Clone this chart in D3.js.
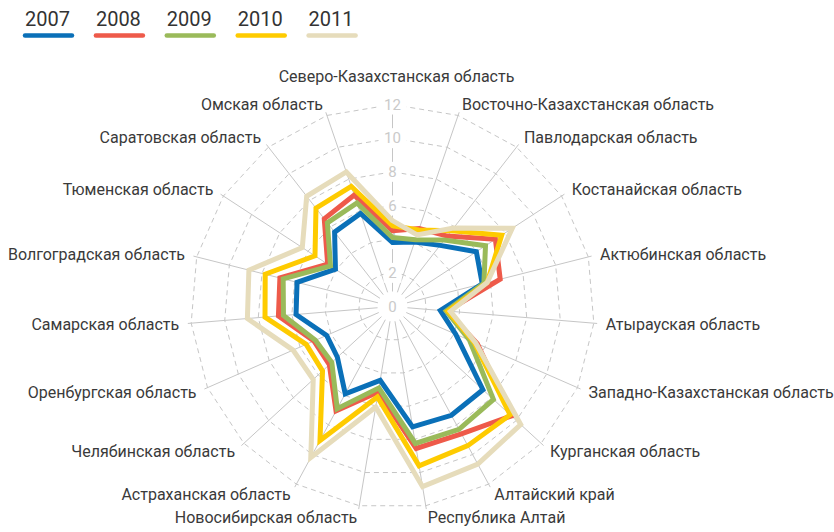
<!DOCTYPE html>
<html>
<head>
<meta charset="utf-8">
<script src="https://cdn.jsdelivr.net/npm/d3@7"></script>
<style>
  body { margin: 0; background: #fff; }
  svg { display: block; font-family: Roboto, "Noto Sans", sans-serif; }
</style>
</head>
<body>
<div id="chart"></div>
<script>
// Категории (оси радара), по часовой стрелке от верхней
const categories = [
  "Северо-Казахстанская область", "Восточно-Казахстанская область", "Павлодарская область",
  "Костанайская область", "Актюбинская область", "Атырауская область",
  "Западно-Казахстанская область", "Курганская область", "Алтайский край",
  "Республика Алтай", "Новосибирская область", "Астраханская область",
  "Челябинская область", "Оренбургская область", "Самарская область",
  "Волгоградская область", "Тюменская область", "Саратовская область", "Омская область"
];
const years = ["2007", "2008", "2009", "2010", "2011"];

// значения по годам
const v2007 = [3.8, 4.05, 4.6, 5.95, 5.5, 2.85, 4.1, 7.3, 7.35, 7.25, 4.45, 5.9, 4.45, 4.27, 5.75, 5.85, 4.05, 5.6, 5.85];
const v2008 = [4.5, 4.9, 5.3, 7.3, 6.6, 3.25, 5.5, 9.6, 8.6, 8.55, 5.15, 7.05, 5.1, 5.1, 6.8, 6.9, 4.6, 6.6, 7.0];
const v2009 = [4.1, 4.2, 5.0, 6.6, 5.6, 3.2, 5.0, 8.15, 8.3, 8.25, 4.9, 6.9, 4.9, 5.0, 6.5, 6.7, 4.4, 6.3, 6.5];
const v2010 = [4.8, 4.8, 5.7, 7.75, 5.8, 3.3, 5.3, 9.5, 9.4, 9.6, 5.45, 9.05, 5.65, 5.6, 7.6, 7.8, 5.5, 7.4, 7.55];
const v2011 = [5.1, 4.5, 5.9, 8.5, 5.8, 3.45, 5.4, 10.35, 10.65, 10.85, 6.05, 10.2, 6.4, 6.45, 8.65, 8.8, 6.4, 8.3, 8.45];
const seriesValues = [v2007, v2008, v2009, v2010, v2011];
const tickValues = [0, 2, 4, 6, 8, 10, 12];

const colors = ["#0a70b8", "#ee5a4a", "#9aba5a", "#fecb00", "#e6dcbb"];

const width = 834;
const height = 532;
const cx = 392.5, cy = 306.5;

const svg = d3.select("#chart")
  .append("svg")
  .attr("width", width)
  .attr("height", height);

// Шкалы
const r = d3.scaleLinear().domain([0, 12]).range([0, 202]);
const angle = d3.scaleLinear().domain([0, categories.length]).range([0, 2 * Math.PI]);

const g = svg.append("g").attr("transform", `translate(${cx},${cy})`);

// Сетка (многоугольники)
const gridLine = d3.lineRadial()
  .angle((d, i) => angle(i))
  .radius(d => r(d))
  .curve(d3.curveLinearClosed);

g.selectAll(".grid")
  .data(tickValues.slice(1))
  .enter()
  .append("path")
  .attr("class", "grid")
  .attr("d", t => gridLine(categories.map(() => t)))
  .attr("fill", "none")
  .attr("stroke", "#c6c6c6")
  .attr("stroke-width", 1)
  .attr("stroke-dasharray", "5,4");

// Оси
g.selectAll(".axis")
  .data(categories)
  .enter()
  .append("line")
  .attr("class", "axis")
  .attr("x1", (d, i) => Math.sin(angle(i)) * 15)
  .attr("y1", (d, i) => -Math.cos(angle(i)) * 15)
  .attr("x2", (d, i) => Math.sin(angle(i)) * r(12.2))
  .attr("y2", (d, i) => -Math.cos(angle(i)) * r(12.2))
  .attr("stroke", "#c6c6c6")
  .attr("stroke-width", 1);

// Подписи шкалы
const ticks = g.selectAll(".tick")
  .data(tickValues)
  .enter()
  .append("g")
  .attr("class", "tick")
  .attr("transform", d => `translate(0,${-r(d)})`);

ticks.append("rect")
  .attr("x", d => d >= 10 ? -14 : -9)
  .attr("y", -10)
  .attr("width", d => d >= 10 ? 28 : 18)
  .attr("height", 20)
  .attr("fill", "#fff");

ticks.append("text")
  .attr("dy", "0.35em")
  .attr("text-anchor", "middle")
  .style("font-size", "15px")
  .attr("fill", "#cacaca")
  .text(d => d);

// Подписи категорий
const labelR = 214;
g.selectAll(".label")
  .data(categories)
  .enter()
  .append("text")
  .attr("class", "label")
  .attr("x", (d, i) => Math.sin(angle(i)) * labelR + (i === 0 ? 4 : 0))
  .attr("y", (d, i) => -Math.cos(angle(i)) * labelR - (i === 0 ? 16 : 0))
  .attr("dy", "0.35em")
  .attr("text-anchor", (d, i) => {
    const s = Math.sin(angle(i));
    return Math.abs(s) < 0.01 ? "middle" : (s > 0 ? "start" : "end");
  })
  .style("font-size", "16px")
  .attr("fill", "#3a3a3a")
  .text(d => d);

// Ряды
const seriesLine = d3.lineRadial()
  .angle((d, i) => angle(i))
  .radius(d => r(d))
  .curve(d3.curveLinearClosed);

g.selectAll(".series")
  .data(seriesValues)
  .enter()
  .append("path")
  .attr("class", "series")
  .attr("d", d => seriesLine(d))
  .attr("fill", "none")
  .attr("stroke", (d, i) => colors[i])
  .attr("stroke-width", 5)
  .attr("stroke-linejoin", "miter");

// Легенда
const legend = svg.selectAll(".legend")
  .data(years)
  .enter()
  .append("g")
  .attr("class", "legend")
  .attr("transform", (d, i) => `translate(${23 + i * 70.9},0)`);

legend.append("text")
  .attr("x", 2)
  .attr("y", 26)
  .style("font-size", "20px")
  .attr("fill", "#333")
  .text(d => d);

legend.append("line")
  .attr("x1", 2)
  .attr("x2", 49)
  .attr("y1", 35.5)
  .attr("y2", 35.5)
  .attr("stroke", (d, i) => colors[i])
  .attr("stroke-width", 4.5)
  .attr("stroke-linecap", "round");
</script>
</body>
</html>
